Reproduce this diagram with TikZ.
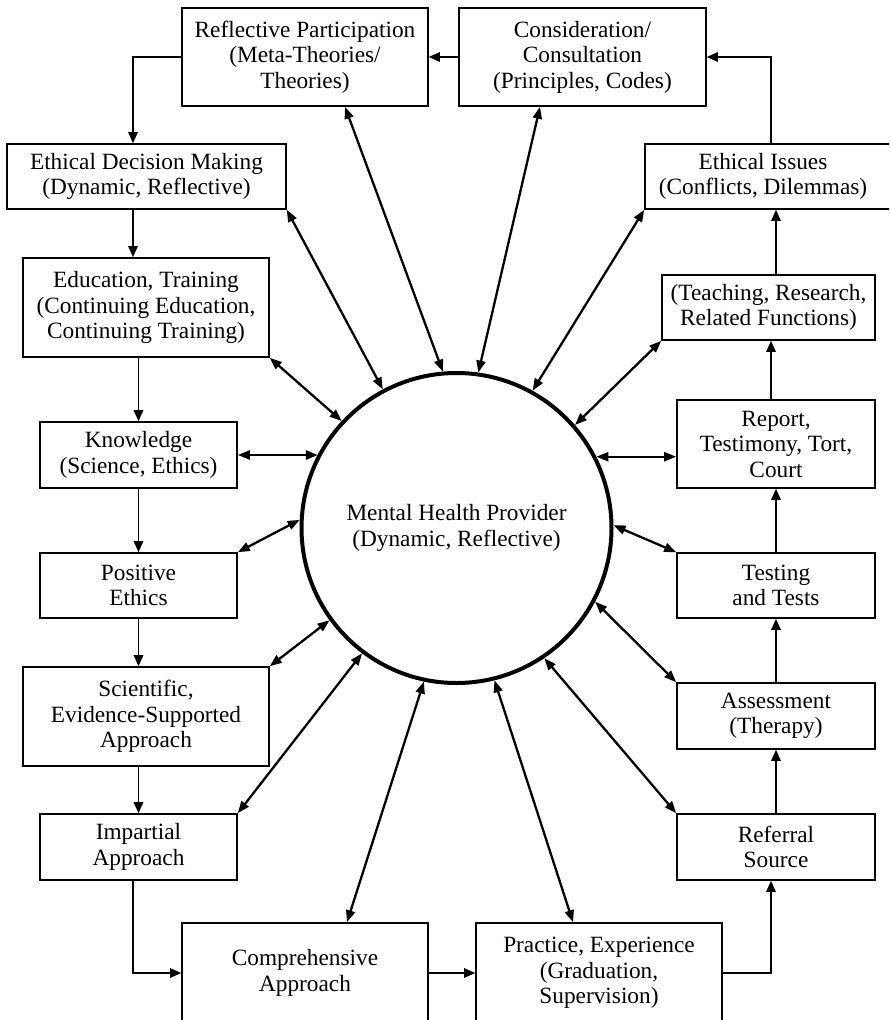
\documentclass[tikz,border=0pt]{standalone}
\usepackage{fontspec}
\setmainfont{Liberation Serif}
\usetikzlibrary{arrows.meta}
\begin{document}
\begin{tikzpicture}[x=1pt,y=-1pt,
  box/.style={draw, line width=1.6pt, inner sep=0pt, align=center,
    font=\fontsize{23.3}{25.5}\selectfont},
  hub/.style={circle, draw, line width=4pt, minimum size=310pt, inner sep=0pt,
    align=center, font=\fontsize{23.3}{26}\selectfont},
  flow/.style={line width=1.3pt, -{Triangle[length=11pt,width=9.5pt]}},
  link/.style={line width=2.3pt,
    {Triangle[length=12pt,width=9pt]}-{Triangle[length=12pt,width=9pt]}},
]
\useasboundingbox (0,0) rectangle (889,1020);
\clip (0,0) rectangle (889,1020);

% central provider
\node[hub] (mhp) at (456.5,528) {Mental Health Provider\\(Dynamic, Reflective)};

% boxes, top row
\node[box, minimum width=246pt, minimum height=98pt] (rp) at (305,57)
  {Reflective Participation\\(Meta-Theories/\\Theories)};
\node[box, minimum width=247pt, minimum height=98pt] (cons) at (582.5,57)
  {Consideration/\\Consultation\\(Principles, Codes)};

% left column
\node[box, minimum width=279pt, minimum height=65pt] (edm) at (146.5,176.5)
  {Ethical Decision Making\\(Dynamic, Reflective)};
\node[box, minimum width=246pt, minimum height=99pt] (edu) at (146,307.5)
  {Education, Training\\(Continuing Education,\\Continuing Training)};
\node[box, minimum width=197pt, minimum height=66pt] (know) at (138.5,455)
  {Knowledge\\(Science, Ethics)};
\node[box, minimum width=197pt, minimum height=65pt] (pos) at (138.5,585.5)
  {Positive\\Ethics};
\node[box, minimum width=246pt, minimum height=99pt] (sci) at (146,716.5)
  {Scientific,\\Evidence-Supported\\Approach};
\node[box, minimum width=197pt, minimum height=66pt] (imp) at (138.5,847)
  {Impartial\\Approach};

% bottom row
\node[box, minimum width=246pt, minimum height=100pt] (comp) at (305,973)
  {Comprehensive\\Approach};
\node[box, minimum width=246pt, minimum height=100pt] (prac) at (599,973)
  {Practice, Experience\\(Graduation,\\Supervision)};

% right column
\node[box, minimum width=250pt, minimum height=65pt] (ei) at (770,176.5)
  {\hspace*{-14pt}Ethical Issues\\\hspace*{-14pt}(Conflicts, Dilemmas)};
\node[box, minimum width=213pt, minimum height=65pt] (teach) at (768.5,307.5)
  {(Teaching, Research,\\Related Functions)};
\node[box, minimum width=198pt, minimum height=88pt] (rep) at (776,444)
  {Report,\\Testimony, Tort,\\Court};
\node[box, minimum width=198pt, minimum height=65pt] (test) at (776,585.5)
  {Testing\\and Tests};
\node[box, minimum width=198pt, minimum height=66pt] (assess) at (776,716)
  {Assessment\\(Therapy)};
\node[box, minimum width=198pt, minimum height=66pt] (ref) at (776,847)
  {Referral\\Source};

% sequence of stages around the circle
\draw[flow] (cons.west) -- (rp.east);
\draw[flow] (rp.west) -| ([xshift=-13.5pt]edm.north);
\draw[flow] ([xshift=-13.5pt]edm.south) -- ([xshift=-13pt]edu.north);
\draw[flow] (edu.south -| know.north) -- (know.north);
\draw[flow] (know.south) -- (pos.north);
\draw[flow] (pos.south) -- (pos.south |- sci.north);
\draw[flow] (sci.south -| imp.north) -- (imp.north);
\draw[flow] ([xshift=-5.5pt]imp.south) |- (comp.west);
\draw[flow] (comp.east) -- (prac.west);
\draw[flow] (prac.east) -| ([xshift=-5pt]ref.south);
\draw[flow] (ref.north) -- (assess.south);
\draw[flow] (assess.north) -- (test.south);
\draw[flow] (test.north) -- (rep.south);
\draw[flow] ([xshift=-5pt]rep.north) -- ([xshift=-5pt]rep.north |- teach.south);
\draw[flow] ([xshift=7.5pt]teach.north) -- ([xshift=7.5pt]teach.north |- ei.south);
\draw[flow] ([xshift=1pt]ei.north) |- (cons.east);

% two-way links with the provider
\draw[link] ([xshift=40pt]rp.south) -- (mhp.95.3);
\draw[link] ([xshift=-42.5pt]cons.south) -- (mhp.82.1);
\draw[link] (edm.south east) -- (mhp.118);
\draw[link] (ei.south west) -- (mhp.61.3);
\draw[link] (edu.south east) -- (mhp.137.5);
\draw[link] (teach.south west) -- (mhp.41.1);
\draw[link] (know.east) -- (know.east -| mhp.152.4);
\draw[link] (mhp.27.5) -- (mhp.27.5 -| rep.west);
\draw[link] (pos.north east) -- (mhp.177.4);
\draw[link] (test.north west) -- (mhp.1.8);
\draw[link] (sci.north east) -- (mhp.216.8);
\draw[link] (assess.north west) -- (mhp.332.1);
\draw[link] (imp.north east) -- (mhp.233.2);
\draw[link] (ref.north west) -- (mhp.304.4);
\draw[link] ([xshift=42pt]comp.north) -- (mhp.258.4);
\draw[link] ([xshift=-26pt]prac.north) -- (mhp.284.7);
\end{tikzpicture}
\end{document}
